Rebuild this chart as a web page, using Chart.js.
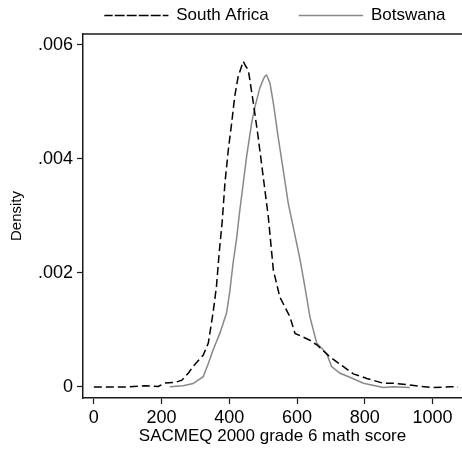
<!DOCTYPE html>
<html>
<head>
<meta charset="utf-8">
<script src="https://cdn.jsdelivr.net/npm/chart.js@4"></script>
<style>
  html, body { margin: 0; padding: 0; background: #fff; }
  #wrap { width: 462px; height: 450px; }
</style>
</head>
<body>
<div id="wrap"><canvas id="myChart" width="462" height="450"></canvas></div>
<script>
// data
const seriesNames = ['South Africa', 'Botswana'];

const saScore = [0, 50, 100, 150, 190, 210, 240, 260, 280, 293, 323, 338, 352, 362, 370, 379, 387, 397, 407, 416, 426, 436, 441, 449, 456, 471, 485, 500, 515, 530, 549, 579, 594, 638, 658, 697, 736, 766, 806, 855, 884, 933, 963, 1002, 1052, 1075];
const saDensity = [0, 0, 0, 0.00002, 0.00001, 0.00007, 0.00008, 0.00012, 0.00025, 0.00036, 0.00056, 0.00077, 0.0013, 0.00176, 0.00235, 0.0029, 0.00357, 0.00416, 0.00463, 0.0051, 0.00544, 0.00562, 0.00571, 0.00562, 0.00556, 0.00498, 0.00439, 0.00369, 0.00299, 0.00205, 0.00158, 0.00123, 0.00094, 0.00082, 0.00074, 0.00053, 0.00036, 0.00023, 0.00015, 0.000065, 0.000065, 0.000035, 0.00001, -0.00001, 0.000005, 0];

const bwScore = [224, 264, 293, 323, 338, 352, 372, 392, 402, 411, 421, 431, 441, 451, 466, 476, 490, 500, 505, 510, 520, 530, 544, 559, 574, 589, 609, 623, 638, 658, 687, 702, 727, 756, 796, 855, 884, 933];
const bwDensity = [0.000006, 0.00002, 0.00006, 0.00018, 0.00041, 0.00065, 0.00094, 0.0013, 0.0017, 0.00217, 0.00258, 0.0031, 0.00357, 0.00404, 0.00463, 0.00492, 0.00524, 0.00539, 0.00545, 0.00547, 0.00533, 0.00498, 0.00439, 0.00381, 0.00322, 0.0028, 0.00223, 0.00176, 0.00123, 0.00077, 0.00059, 0.00036, 0.00024, 0.00017, 0.000065, -0.00001, 0.000005, -0.00001];

const xTicks = [0, 200, 400, 600, 800, 1000];
const yTicks = [0, 0.002, 0.004, 0.006];
const yTickLabels = ['0', '.002', '.004', '.006'];

const toPoints = (xs, ys) => xs.map((x, i) => ({x: x, y: ys[i]}));

const FONT = "'Liberation Sans', Arial, Helvetica, sans-serif";

// top frame line of the plot region
const frameTop = {
    id: 'frameTop',
    afterDraw(chart) {
        const {ctx, chartArea} = chart;
        ctx.save();
        ctx.strokeStyle = '#1a1a1a';
        ctx.lineWidth = 1.5;
        ctx.beginPath();
        ctx.moveTo(chartArea.left, chartArea.top);
        ctx.lineTo(chartArea.right, chartArea.top);
        ctx.stroke();
        ctx.restore();
    }
};

const ctx = document.getElementById('myChart').getContext('2d');
const myChart = new Chart(ctx, {
    type: 'line',
    data: {
        datasets: [{
            label: seriesNames[0],
            data: toPoints(saScore, saDensity),
            borderColor: '#000000',
            backgroundColor: 'rgba(0,0,0,0)',
            borderWidth: 1.5,
            borderDash: [8, 4],
            pointRadius: 0,
            tension: 0,
            fill: false
        }, {
            label: seriesNames[1],
            data: toPoints(bwScore, bwDensity),
            borderColor: '#888888',
            backgroundColor: 'rgba(0,0,0,0)',
            borderWidth: 1.5,
            pointRadius: 0,
            tension: 0,
            fill: false
        }]
    },
    options: {
        responsive: false,
        animation: false,
        layout: { padding: 0 },
        plugins: {
            tooltip: { enabled: false },
            legend: {
                position: 'top',
                align: 'end',
                labels: {
                    color: '#000',
                    font: { family: FONT, size: 17 },
                    boxWidth: 63,
                    boxHeight: 0.01,
                    padding: 7,
                    generateLabels(chart) {
                        const items = Chart.defaults.plugins.legend.labels.generateLabels(chart);
                        items[0].text = items[0].text + '     ';
                        items[1].text = items[1].text + '  ';
                        return items;
                    }
                }
            }
        },
        scales: {
            x: {
                type: 'linear',
                min: -32,
                max: 1087,
                afterBuildTicks(scale) {
                    scale.ticks = xTicks.map(v => ({value: v}));
                },
                afterFit(scale) { scale.height = 52; },
                grid: {
                    drawOnChartArea: false,
                    tickLength: 6,
                    tickWidth: 1.2,
                    tickColor: '#1a1a1a'
                },
                border: { color: '#1a1a1a', width: 1.5 },
                ticks: {
                    color: '#000',
                    font: { family: FONT, size: 18 },
                    padding: 3,
                    maxRotation: 0,
                    callback: v => String(v)
                },
                title: {
                    display: true,
                    text: 'SACMEQ 2000 grade 6 math score',
                    color: '#000',
                    font: { family: FONT, size: 17 },
                    padding: { top: 0, bottom: 3 }
                }
            },
            y: {
                min: -0.000193,
                max: 0.00619,
                afterBuildTicks(scale) {
                    scale.ticks = yTicks.map(v => ({value: v}));
                },
                afterFit(scale) { scale.width = 83; },
                grid: {
                    drawOnChartArea: false,
                    tickLength: 6,
                    tickWidth: 1.2,
                    tickColor: '#1a1a1a'
                },
                border: { color: '#1a1a1a', width: 1.5 },
                ticks: {
                    color: '#000',
                    font: { family: FONT, size: 18 },
                    padding: 4,
                    callback: (v, i) => yTickLabels[yTicks.indexOf(v)]
                },
                title: {
                    display: true,
                    text: 'Density',
                    color: '#000',
                    font: { family: FONT, size: 15 },
                    padding: { top: 8, bottom: 0 }
                }
            }
        }
    },
    plugins: [frameTop]
});
</script>
</body>
</html>
